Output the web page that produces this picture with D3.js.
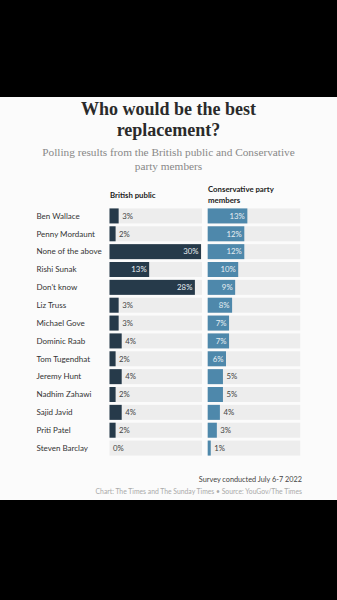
<!DOCTYPE html>
<html><head><meta charset="utf-8">
<script src="https://cdn.jsdelivr.net/npm/d3@7"></script>
<style>html,body{margin:0;padding:0;background:#000;}svg{display:block;}</style>
</head><body>
<svg id="chart" width="337" height="600"></svg>
<script>
const names = ["Ben Wallace","Penny Mordaunt","None of the above","Rishi Sunak","Don't know","Liz Truss","Michael Gove","Dominic Raab","Tom Tugendhat","Jeremy Hunt","Nadhim Zahawi","Sajid Javid","Priti Patel","Steven Barclay"];
const publicVals = [3,2,30,13,28,3,3,4,2,4,2,4,2,0];
const memberVals = [13,12,12,10,9,8,7,7,6,5,5,4,3,1];
const panelTitles = ["British public", ["Conservative party","members"]];

const svg = d3.select("#chart");
const sans = "Lato, 'Open Sans', sans-serif";
const serif = "'Liberation Serif', 'DejaVu Serif', serif";

svg.append("rect").attr("x",0).attr("y",97).attr("width",337).attr("height",403).attr("fill","#fbfbfb");

svg.append("text").attr("x",168.5).attr("y",115).attr("text-anchor","middle")
  .attr("font-family",serif).attr("font-weight","bold").attr("font-size",18).attr("fill","#2a2a2a")
  .text("Who would be the best");
svg.append("text").attr("x",168.5).attr("y",136).attr("text-anchor","middle")
  .attr("font-family",serif).attr("font-weight","bold").attr("font-size",18).attr("fill","#2a2a2a")
  .text("replacement?");
svg.append("text").attr("x",168.5).attr("y",156).attr("text-anchor","middle")
  .attr("font-family",serif).attr("font-size",11.3).attr("fill","#888")
  .text("Polling results from the British public and Conservative");
svg.append("text").attr("x",168.5).attr("y",170).attr("text-anchor","middle")
  .attr("font-family",serif).attr("font-size",11.3).attr("fill","#888")
  .text("party members");

const y = d3.scaleBand().domain(names).range([207,457]).paddingInner(0.16).paddingOuter(0.08);
const x = d3.scaleLinear().domain([0,30]).range([0,91.5]);
const trackW = 92.5;
const panels = [
  {x0:109.5, vals:publicVals, color:"#263a4a"},
  {x0:207.7, vals:memberVals, color:"#4e88ab"}
];

// row labels
svg.append("g").selectAll("text").data(names).join("text")
  .attr("x",36.5).attr("y",d=>y(d)+y.bandwidth()/2).attr("dy","0.35em")
  .attr("font-family",sans).attr("font-size",8).attr("fill","#333").text(d=>d);

// headers
svg.append("text").attr("x",110).attr("y",198).attr("font-family",sans).attr("font-weight","bold")
  .attr("font-size",7.8).attr("fill","#222").text(panelTitles[0]);
svg.append("text").attr("x",208).attr("y",192).attr("font-family",sans).attr("font-weight","bold")
  .attr("font-size",7.8).attr("fill","#222")
  .selectAll("tspan").data(panelTitles[1]).join("tspan")
  .attr("x",208).attr("dy",(d,i)=>i?10.5:0).text(d=>d);

panels.forEach(p=>{
  const g = svg.append("g").attr("transform",`translate(${p.x0},0)`);
  g.selectAll("rect.track").data(names).join("rect").attr("class","track")
    .attr("x",0).attr("y",d=>y(d)).attr("width",trackW).attr("height",y.bandwidth()).attr("fill","#ededed");
  g.selectAll("rect.bar").data(p.vals).join("rect").attr("class","bar")
    .attr("x",0).attr("y",(d,i)=>y(names[i])).attr("width",d=>x(d)).attr("height",y.bandwidth()).attr("fill",p.color);
  g.selectAll("text.val").data(p.vals).join("text").attr("class","val")
    .attr("x",d=> d>=6 ? x(d)-2.5 : x(d)+3.5)
    .attr("text-anchor",d=> d>=6 ? "end" : "start")
    .attr("y",(d,i)=>y(names[i])+y.bandwidth()/2).attr("dy","0.35em")
    .attr("font-family",sans).attr("font-size",7.8)
    .attr("fill",d=> d>=6 ? "#e8eef2" : "#444")
    .text(d=>d+"%");
});

svg.append("text").attr("x",302).attr("y",482).attr("text-anchor","end")
  .attr("font-family",sans).attr("font-size",7.3).attr("fill","#444").text("Survey conducted July 6-7 2022");
svg.append("text").attr("x",302).attr("y",493.5).attr("text-anchor","end")
  .attr("font-family",sans).attr("font-size",6.8).attr("fill","#aaa")
  .text("Chart: The Times and The Sunday Times \u2022 Source: YouGov/The Times");
</script>
</body></html>
